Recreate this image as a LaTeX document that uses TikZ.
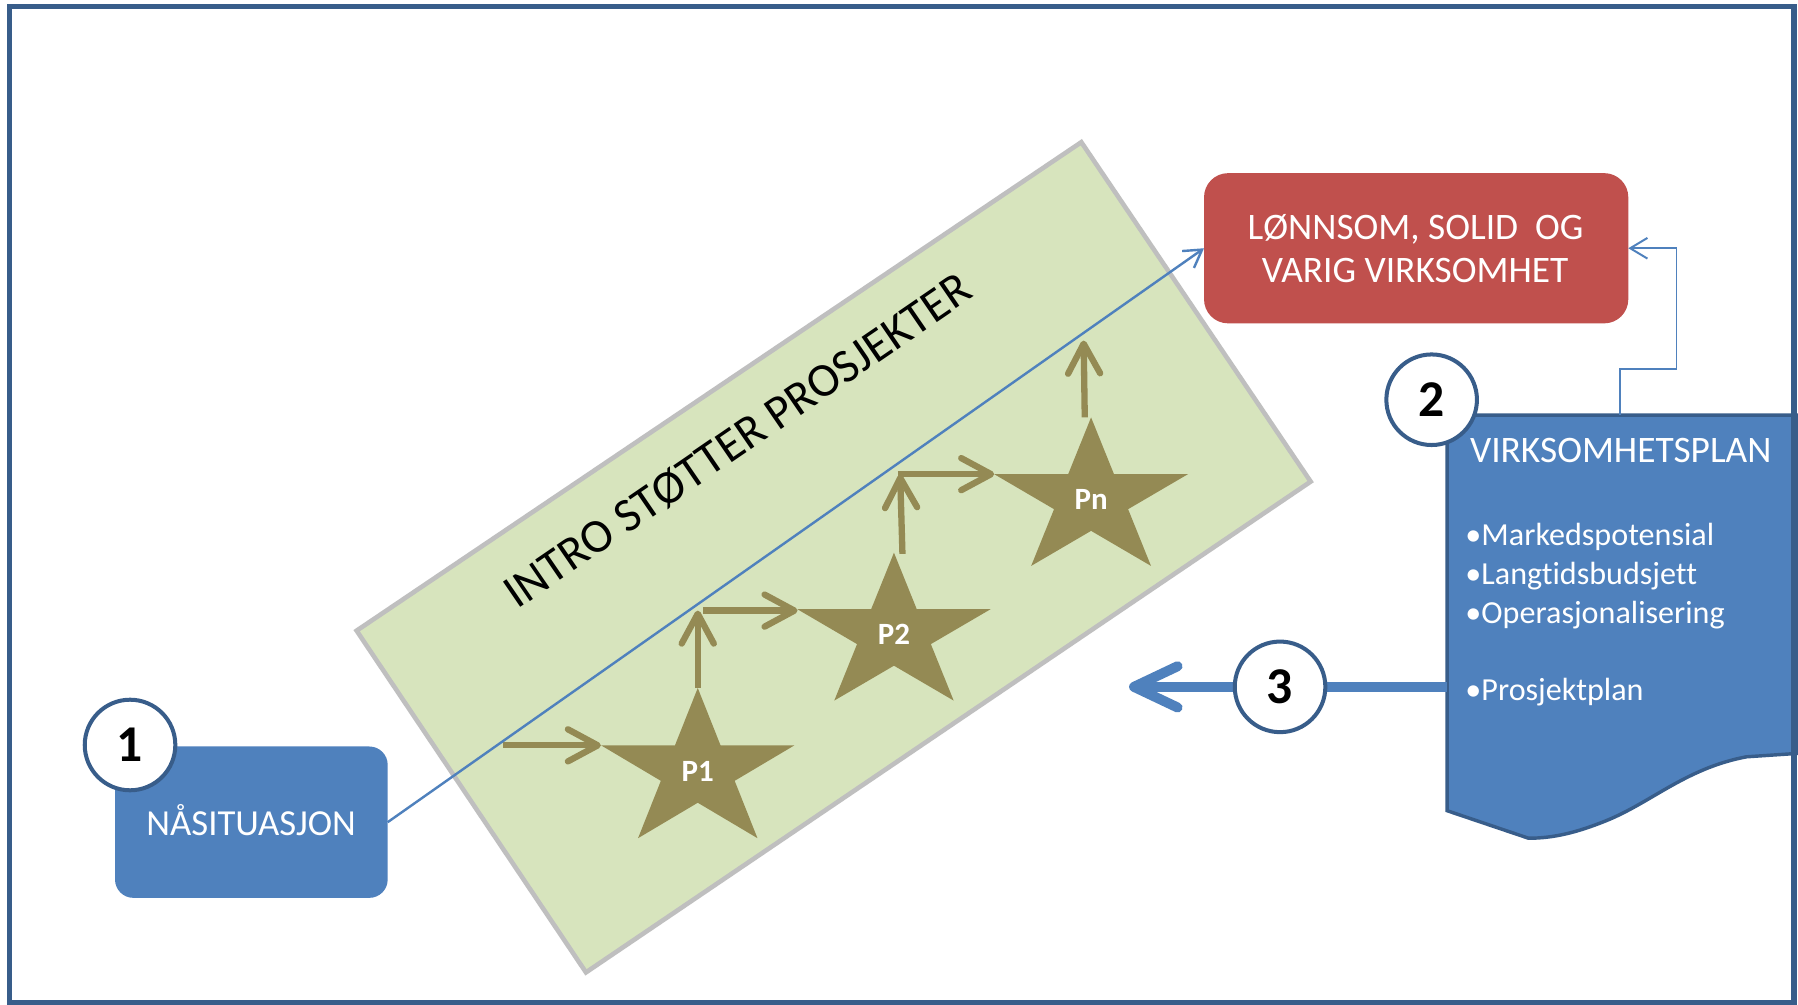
\documentclass[tikz,border=0pt]{standalone}
\usepackage{fontspec}
\setmainfont{Carlito}[Ligatures=NoCommon]
\usetikzlibrary{arrows.meta,calc}
\definecolor{bfill}{HTML}{4F81BD}
\definecolor{bdark}{HTML}{385D8A}
\definecolor{rfill}{HTML}{C0504D}
\definecolor{gfill}{HTML}{D7E4BD}
\definecolor{gline}{HTML}{BFBFBF}
\definecolor{olivec}{HTML}{948A54}
\newcommand{\drawolivestar}[4]{%
  \begin{scope}[shift={(#1,#2)},xscale=#3,yscale=#4]
    \fill[olivec] (-90:1) -- (-54:0.382) -- (-18:1) -- (18:0.382) -- (54:1)
      -- (90:0.382) -- (126:1) -- (162:0.382) -- (198:1) -- (234:0.382) -- cycle;
  \end{scope}}
\begin{document}
\begin{tikzpicture}[x=0.5pt,y=-0.5pt,
  every node/.style={inner sep=0pt,outer sep=0pt},
  numcirc/.style={circle,draw=bdark,line width=1.75pt,fill=white,minimum size=39.5pt,
    font=\fontsize{22.5}{27}\selectfont\bfseries},
  nasbox/.style={rectangle,rounded corners=8pt,fill=bfill,minimum width=118.9pt,minimum height=66pt},
  redbox/.style={rectangle,rounded corners=10.5pt,fill=rfill,minimum width=185pt,minimum height=65.5pt},
  wtext/.style={text=white,anchor=base},
  bultext/.style={text=white,anchor=base west,font=\fontsize{14}{17}\selectfont},
  startext/.style={text=white,font=\fontsize{13.5}{16}\selectfont\bfseries},
  olivearrow/.style={draw=olivec,line width=2.75pt,-{Straight Barb[length=13pt,width=14pt,round]}},
  bluethin/.style={draw=bfill,line width=1.05pt,-{Straight Barb[length=7.5pt,width=9pt]}},
  bluethick/.style={draw=bfill,line width=4.35pt,-{Straight Barb[length=19pt,width=18pt,round]}},
]
\useasboundingbox (0,0) rectangle (1568,876);
\fill[white] (0,0) rectangle (1568,876);

% green band
\draw[fill=gfill,draw=gline,line width=2pt] (311,550) -- (943,124) -- (1143,420) -- (511,848) -- cycle;
\node[rotate=34.4,font=\fontsize{20.75}{25}\selectfont] (intro) at (643.5,384.5) {INTRO STØTTER PROSJEKTER};

% stars
\drawolivestar{608.5}{672.4}{88.6}{72.4}
\drawolivestar{779.6}{553.3}{88.6}{71.3}
\drawolivestar{951.5}{435.6}{88.9}{71.6}
\node[startext] (p1) at (608.5,672.4) {P1};
\node[startext] (p2) at (779.6,553.3) {P2};
\node[startext] (pn) at (951.5,435.6) {Pn};
\coordinate (p1top) at (608.5,600);
\coordinate (p1left) at (524,650);
\coordinate (p2top) at (787,483);
\coordinate (p2left) at (695.5,532.5);
\coordinate (pntop) at (946,364);
\coordinate (pnleft) at (867,413.5);
\coordinate (a0) at (439,650);
\coordinate (b1) at (608.5,532.5);
\coordinate (c0) at (613,532.5);
\coordinate (d1) at (785,414);
\coordinate (e0) at (783,413.5);
\coordinate (f1) at (945,297);

\draw[olivearrow] (a0) -- (p1left);
\draw[olivearrow] (p1top) -- (b1);
\draw[olivearrow] (c0) -- (p2left);
\draw[olivearrow] (p2top) -- (d1);
\draw[olivearrow] (e0) -- (pnleft);
\draw[olivearrow] (pntop) -- (f1);

% boxes
\node[nasbox] (nas) at (219.2,717) {};
\node[redbox] (red) at (1235,216.5) {};
\draw[bluethin] (nas.east) -- (red.west);

% document shape
\draw[fill=bfill,draw=bdark,line width=1.5pt] (1262,362) -- (1568,362) -- (1568,657) -- (1523,660)
  .. controls (1470,670) and (1440,700) .. (1400,716)
  .. controls (1375,726) and (1355,731) .. (1333,731) -- (1262,707) -- cycle;
\coordinate (dtop) at (1413,362);
\coordinate (dleft) at (1262,599);
\coordinate (tip3) at (984.6,599);
\draw[bluethin,line width=0.85pt] (dtop) -- ++(0,-40) -| ($(red.east)+(42,0)$) -- (red.east);
\draw[bluethick] (dleft) -- (tip3);

% numbered circles
\node[numcirc] (c1) at (113.4,649.7) {1};
\node[numcirc] (c2) at (1248.5,348.6) {2};
\node[numcirc] (c3) at (1116.3,599) {3};

% texts
\node[wtext,font=\fontsize{16}{19}\selectfont] (nastxt) at (219,729) {NÅSITUASJON};
\node[wtext,font=\fontsize{16.3}{19}\selectfont] (rt1) at (1234.5,209) {LØNNSOM, SOLID\ \ OG};
\node[wtext,font=\fontsize{16.3}{19}\selectfont] (rt2) at (1234,246.6) {VARIG VIRKSOMHET};
\node[text=white,anchor=base west,font=\fontsize{16.3}{19}\selectfont] (vp) at (1282,403.5) {VIRKSOMHETSPLAN};
\node[bultext] (b1t) at (1278,476) {•Markedspotensial};
\node[bultext] (b2t) at (1278,510) {•Langtidsbudsjett};
\node[bultext] (b3t) at (1278,544) {•Operasjonalisering};
\node[bultext] (b4t) at (1278,611) {•Prosjektplan};

% frame
\draw[bdark,line width=2.2pt] (8.3,5.7) rectangle (1564.5,874.5);
\end{tikzpicture}
\end{document}
